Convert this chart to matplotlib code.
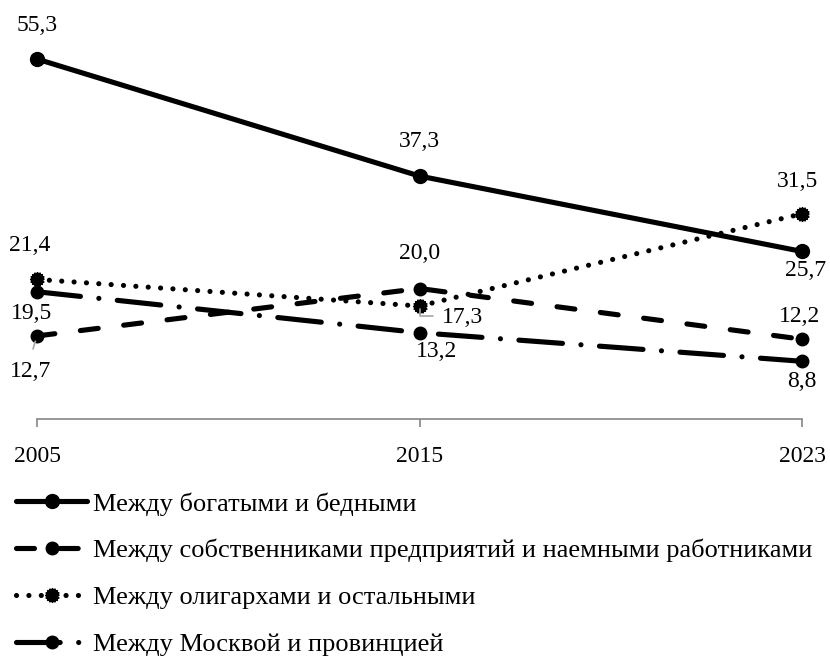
import matplotlib
matplotlib.use('Agg')
import matplotlib.pyplot as plt
import numpy as np
from matplotlib.path import Path

plt.rcParams['font.family'] = ['Liberation Serif', 'DejaVu Serif']

years = ['2005', '2015', '2023']
rich_poor = [55.3, 37.3, 25.7]
owners_workers = [12.7, 20.0, 12.2]
oligarchs = [21.4, 17.3, 31.5]
moscow_prov = [19.5, 13.2, 8.8]

names = ['Между богатыми и бедными',
         'Между собственниками предприятий и наемными работниками',
         'Между олигархами и остальными',
         'Между Москвой и провинцией']

# serrated circle marker (dotted-border look)
t = np.linspace(0, 2*np.pi, 33)[:-1]
r = np.where(np.arange(32) % 2 == 0, 1.0, 0.82)
gear = Path(np.column_stack([r*np.cos(t), r*np.sin(t)]))

fig = plt.figure(figsize=(8.3, 6.56), dpi=100)
ax = fig.add_axes([37/830, 1 - 418.5/656, (802-37)/830, (418.5-28.5)/656])

x = range(len(years))
lw = 3.7
fs = 17

ax.plot(x, rich_poor, '-', c='black', lw=lw, marker='o', ms=10,
        solid_capstyle='round', clip_on=False, label=names[0])
ax.plot(x, owners_workers, c='black', lw=lw, marker='o', ms=9,
        dashes=(3.5, 5.0), dash_capstyle='round', clip_on=False, label=names[1])
ax.plot(x, oligarchs, c='black', lw=lw, marker=gear, ms=10,
        dashes=(0.01, 2.4), dash_capstyle='round', clip_on=False, label=names[2])
ax.plot(x, moscow_prov, c='black', lw=lw, marker='o', ms=9,
        dashes=(8.5, 3.6, 0.01, 3.6), dash_capstyle='round', clip_on=False,
        label=names[3])

# data labels (offsets in pixels)
offs = {
    0: [(0, 34), (0, 35), (4, -19)],
    1: [(-6, -36), (0, 35), (-2, 23)],
    2: [(-7, 34), (43, -11), (-5, 32)],
    3: [(-5, -22), (17, -19), (0, -20)],
}
series = [rich_poor, owners_workers, oligarchs, moscow_prov]
for k, vals in enumerate(series):
    for i, v in enumerate(vals):
        ax.annotate(f'{v:.1f}'.replace('.', ','), (i, v), xytext=offs[k][i],
                    textcoords='offset pixels', ha='center', va='center',
                    fontsize=fs, annotation_clip=False)

# leader lines
ax.annotate('', (0, owners_workers[0]), xytext=(-4, -13), textcoords='offset pixels',
            arrowprops=dict(arrowstyle='-', color='#a6a6a6', lw=1.2,
                            shrinkA=0, shrinkB=4))
ax.annotate('', (1, oligarchs[1]), xytext=(13, -10), textcoords='offset pixels',
            arrowprops=dict(arrowstyle='-', color='#a6a6a6', lw=1.2,
                            connectionstyle='angle,angleA=0,angleB=90,rad=0',
                            shrinkA=0, shrinkB=2))

ax.set_xlim(0, 2)
ax.set_ylim(0, 60)
ax.set_xticks(list(x))
ax.set_xticklabels(years, fontsize=fs)
ax.set_yticks([])
for s in ['top', 'right', 'left']:
    ax.spines[s].set_visible(False)
ax.spines['bottom'].set_color('#868686')
ax.spines['bottom'].set_linewidth(1.2)
ax.tick_params(axis='x', direction='out', length=6, width=1.2, color='#868686',
               pad=14)

leg = fig.legend(loc='upper left', bbox_to_anchor=(16/830, 1 - 492/656),
                 frameon=False, fontsize=19, handlelength=2.7, handletextpad=0.2,
                 labelspacing=0.89, borderpad=0, borderaxespad=0)

fig.savefig('out.png', dpi=100)
